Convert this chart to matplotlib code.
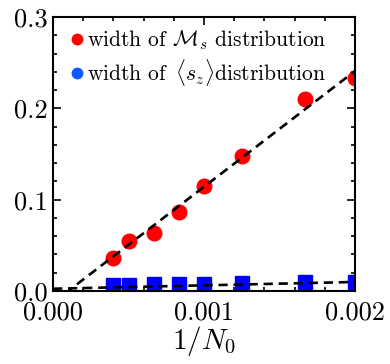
import matplotlib
matplotlib.use("Agg")
import matplotlib.pyplot as plt
import numpy as np
from matplotlib.lines import Line2D
from matplotlib.ticker import MultipleLocator, FormatStrFormatter

plt.rcParams['font.family'] = 'serif'
plt.rcParams['font.serif'] = ['cmr10']
plt.rcParams['mathtext.fontset'] = 'cm'
plt.rcParams['axes.formatter.use_mathtext'] = True

# inverse system size 1/N0
inv_n = [1/2500, 1/2000, 1/1500, 1/1200, 1/1000, 1/800, 1/600, 1/500]
width_ms = [0.036, 0.055, 0.063, 0.086, 0.115, 0.148, 0.210, 0.233]
width_sz = [0.0066, 0.0066, 0.0072, 0.0075, 0.0075, 0.0088, 0.0099, 0.0099]

# linear fits (slope, intercept)
fit_ms = (126.8, -0.0127)
fit_sz = (3.7, 0.0025)

fig = plt.figure(figsize=(3.9, 3.64), dpi=100)
ax = fig.add_axes([0.136, 0.2005, 0.774, 0.7525])

ax.plot(inv_n, width_ms, 'o', color='red', markersize=10.5, zorder=2)
ax.plot(inv_n, width_sz, 's', color='blue', markersize=10.5, zorder=2)

xf = np.array([0.0, 0.002])
ax.plot(xf, fit_ms[0]*xf + fit_ms[1], color='black', lw=1.9, ls=(0, (3.5, 2.2)), zorder=3)
ax.plot(xf, fit_sz[0]*xf + fit_sz[1], color='black', lw=1.9, ls=(0, (3.5, 2.2)), zorder=3)

ax.set_xlim(0, 0.002)
ax.set_ylim(0, 0.3)
ax.xaxis.set_major_locator(MultipleLocator(0.001))
ax.xaxis.set_minor_locator(MultipleLocator(0.0002))
ax.yaxis.set_major_locator(MultipleLocator(0.1))
ax.yaxis.set_minor_locator(MultipleLocator(0.02))
ax.xaxis.set_major_formatter(FormatStrFormatter('%.3f'))
ax.yaxis.set_major_formatter(FormatStrFormatter('%.1f'))

ax.tick_params(which='both', direction='in', top=True, right=True, width=1.2)
ax.tick_params(which='major', length=6, labelsize=19)
ax.tick_params(which='minor', length=3)
ax.tick_params(axis='x', pad=7)
ax.tick_params(axis='y', pad=4)
for s in ax.spines.values():
    s.set_linewidth(1.5)

ax.set_xlabel(r'$1/N_0$', fontsize=21, labelpad=0)

handles = [
    Line2D([], [], marker='o', ls='none', color='red', markersize=7.5),
    Line2D([], [], marker='o', ls='none', color='#0a5cff', markersize=7.5),
]
labels = [r'width of $\mathcal{M}_s$ distribution',
          r'width of $\,\langle s_z\rangle$distribution']
ax.legend(handles, labels, loc='upper left', frameon=False, fontsize=15.5,
          handlelength=0.5, handletextpad=0.25, labelspacing=0.25,
          borderaxespad=0.3, bbox_to_anchor=(0.01, 1.015))

fig.savefig('out.png', dpi=100)
